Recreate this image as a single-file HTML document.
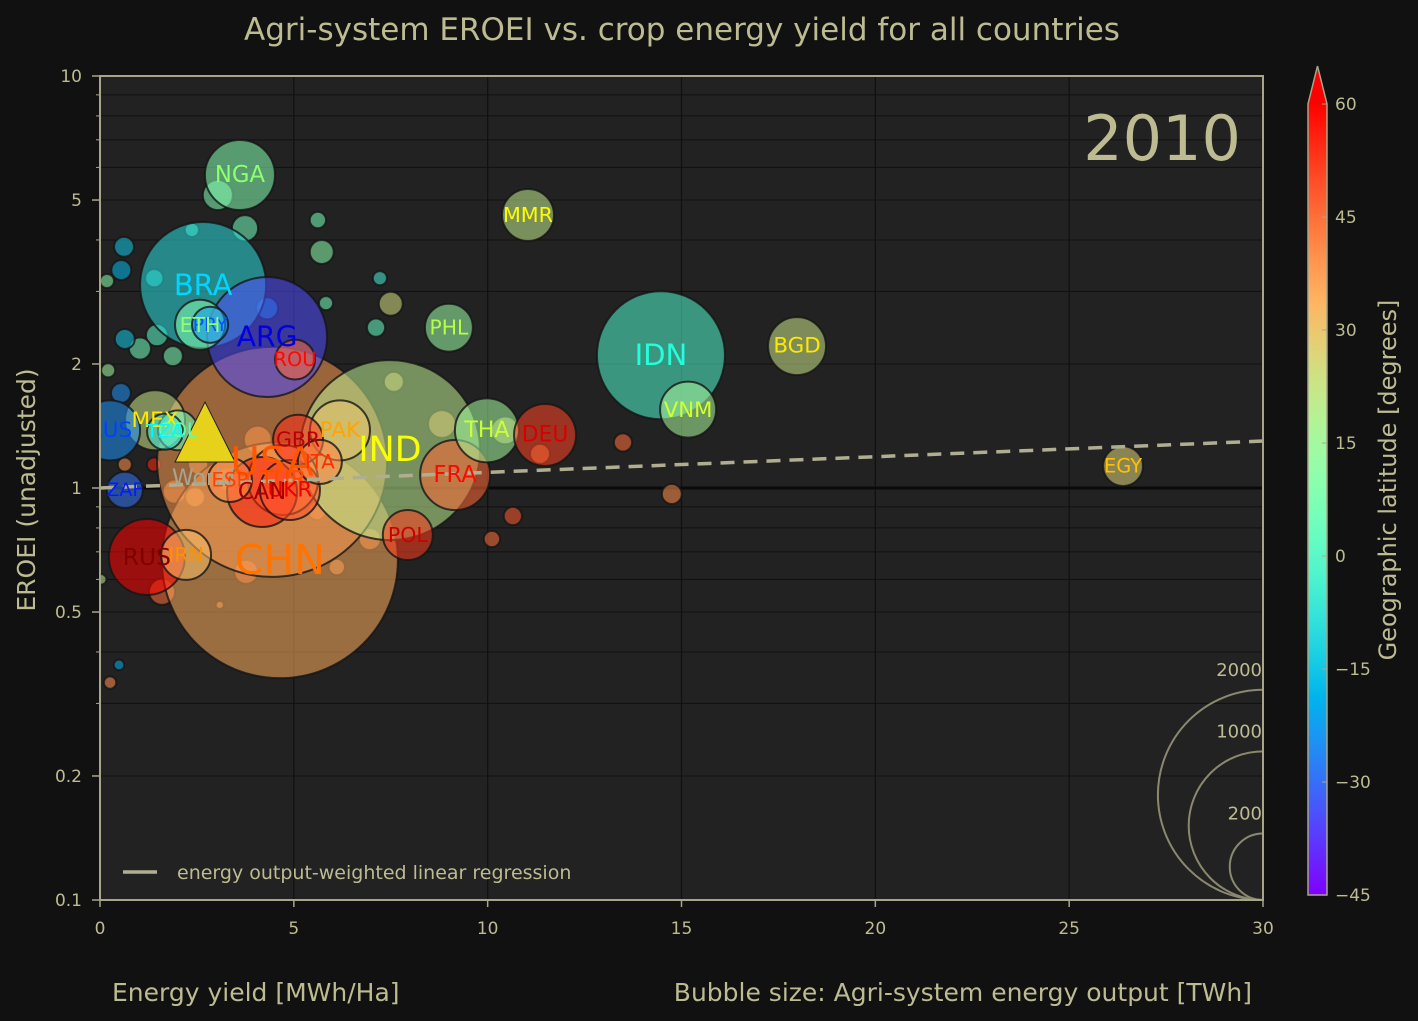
<!DOCTYPE html>
<html><head><meta charset="utf-8"><style>
html,body{margin:0;padding:0;background:#111;}
svg{display:block;font-family:"DejaVu Sans","Liberation Sans",sans-serif;}
</style></head><body>
<svg id="c" width="1418" height="1021"></svg>
<script>
const names=["CHN","USA","IND","BRA","ARG","NGA","IDN","BGD","MMR","VNM","THA","DEU","FRA","PHL","EGY","RUS","IRN","POL","GBR","PAK","ITA","TUR","UKR","CAN","ESP","MEX","AUS","ZAF","COL","TZA","PRY","ETH","ROU"];
const xs=[4.64,4.44,7.48,2.66,4.31,3.61,14.47,17.98,11.04,15.17,9.98,11.48,9.16,9.0,26.39,1.21,2.22,7.94,5.11,6.19,5.67,4.72,4.9,4.18,3.35,1.42,0.26,0.64,2.01,1.68,2.84,2.58,5.03];
const ys=[0.668,1.157,1.236,3.11,2.325,5.75,2.10,2.21,4.6,1.55,1.38,1.345,1.075,2.45,1.13,0.68,0.688,0.769,1.31,1.38,1.157,1.046,0.989,0.978,1.046,1.46,1.38,0.989,1.38,1.37,2.49,2.49,2.05];
const sizes=[2521,2395,1467,719,652,222,742,152,122,142,185,174,222,104,72,261,113,113,113,163,88,222,163,222,88,163,163,59,72,59,59,113,72];
const lats=[35,38,20,-10,-35,9,-2,23,21,16,15,51,46,13,27,60,32,52,54,30,42,39,49,56,40,23,-25,-29,4,-6,-23,9,46];
const smallX=[0.62,0.55,0.18,1.4,2.37,3.74,3.04,5.62,5.72,5.83,7.22,7.5,7.12,4.31,1.47,1.03,0.64,1.88,0.21,0.54,7.58,8.82,10.45,13.49,11.35,14.75,10.65,10.11,6.96,6.11,5.6,1.6,3.77,0.26,0.49,0.64,1.39,0.03,3.09,2.53,3.3,4.07,1.93,2.45];
const smallY=[3.85,3.38,3.18,3.23,4.23,4.27,5.14,4.47,3.74,2.81,3.23,2.80,2.45,2.73,2.35,2.18,2.3,2.09,1.93,1.7,1.81,1.43,1.38,1.29,1.21,0.967,0.855,0.752,0.752,0.643,0.88,0.56,0.626,0.337,0.372,1.14,1.14,0.6,0.52,1.14,1.05,1.31,0.98,0.95];
const smallS=[18,18,9,15,9,31,41,12,26,9,9,26,15,22,22,22,18,18,9,18,18,35,35,15,18,18,15,12,22,12,15,31,26,7,5,9,9,5,3,18,26,35,26,18];
const smallLat=[-15,-18,10,-8,0,5,8,6,10,5,-5,25,2,-20,0,5,-15,7,15,-25,30,35,28,45,40,40,48,45,42,40,45,45,44,40,-20,40,55,20,40,35,38,40,40,33];
const regX=[0,30];
const regY=[1.0,1.3];
const cbTicks=[60,45,30,15,0,-15,-30,-45];
const yTicks=[10,5,2,1,0.5,0.2,0.1];
const xTicks=[0,5,10,15,20,25,30];
const legSizes=[2000,1000,200];

const X0=100,X1=1263,Y0=76,Y1=900;
const sx=v=>X0+(v/30)*(X1-X0);
const sy=v=>Y0+(1-Math.log10(v))/2*(Y1-Y0);
const sr=s=>2.35*Math.sqrt(s);
function tn(lat){return Math.max(0,Math.min(1,(lat+45)/105));}
function cmap(lat){const t=tn(lat);
 const r=Math.min(1,Math.abs(2*t-0.5)),g=Math.sin(Math.PI*t),b=Math.cos(Math.PI*t/2);
 return `rgb(${Math.round(r*255)},${Math.round(g*255)},${Math.round(b*255)})`;}
function jet(lat){const t=tn(lat);const c=x=>Math.max(0,Math.min(1,x));
 const r=c(Math.min(4*t-1.5,-4*t+4.5)),g=c(Math.min(4*t-0.5,-4*t+3.5)),b=c(Math.min(4*t+0.5,-4*t+2.5));
 return `rgb(${Math.round(r*255)},${Math.round(g*255)},${Math.round(b*255)})`;}
const NS="http://www.w3.org/2000/svg";
const svg=document.getElementById('c');
function mk(tag,attrs,parent){const e=document.createElementNS(NS,tag);for(const k in attrs)e.setAttribute(k,attrs[k]);(parent||svg).appendChild(e);return e;}
const TXT="#bdbb91";
mk('rect',{x:0,y:0,width:1418,height:1021,fill:'#111'});
let e=mk('rect',{x:X0,y:Y0,width:X1-X0,height:Y1-Y0,fill:'#222'});


const clip=mk('clipPath',{id:'pc'});mk('rect',{x:X0,y:Y0,width:X1-X0,height:Y1-Y0},clip);
const grid=mk('g',{stroke:'#111','stroke-width':1.3});


xTicks.forEach(v=>mk('line',{x1:sx(v),x2:sx(v),y1:Y0,y2:Y1},grid));
[0.1,1].forEach(d=>{for(let m=1;m<10;m++){const v=d*m;mk('line',{x1:X0,x2:X1,y1:sy(v),y2:sy(v),'stroke-width':m==1?1.5:1},grid);}});
mk('line',{x1:X0,x2:X1,y1:sy(1),y2:sy(1),stroke:'#0a0a0a','stroke-width':3});
const pg=mk('g',{'clip-path':'url(#pc)'});
const lg=mk('g',{fill:'none',stroke:'#8a896f','stroke-width':2},pg);


legSizes.forEach(s=>{mk('circle',{cx:X1,cy:Y1-sr(s),r:sr(s)},lg);});
smallX.forEach((v,i)=>{const c=mk('circle',{cx:sx(v),cy:sy(smallY[i]),r:sr(smallS[i]),fill:cmap(smallLat[i]),'fill-opacity':0.55,stroke:'#151515','stroke-opacity':0.8,'stroke-width':2},pg);

});
const order=names.map((n,i)=>i).sort((a,b)=>sizes[b]-sizes[a]);
order.forEach(i=>{const c=mk('circle',{cx:sx(xs[i]),cy:sy(ys[i]),r:sr(sizes[i]),fill:cmap(lats[i]),'fill-opacity':0.55,stroke:'#151515','stroke-opacity':0.8,'stroke-width':2},pg);

});
const rl=mk('line',{x1:sx(regX[0]),y1:sy(regY[0]),x2:sx(regX[1]),y2:sy(regY[1]),stroke:'#b0ae90','stroke-width':3.5,'stroke-dasharray':'14,9'},pg);


const wx=sx(2.71),wy=sy(1.345);
const tri=mk('polygon',{points:`${wx},${wy-33} ${wx-30},${wy+27} ${wx+30},${wy+27}`,fill:'#e6d21a',stroke:'#222','stroke-width':1},pg);


let wt=mk('text',{x:wx-33,y:wy+50,fill:'#a8a690','font-size':22},pg);wt.textContent='World';


names.forEach((n,i)=>{const r=sr(sizes[i]);const t=mk('text',{x:sx(xs[i]),y:sy(ys[i]),fill:jet(lats[i]),'font-size':(15+r*0.22).toFixed(1),'text-anchor':'middle','dominant-baseline':'central'},pg);t.textContent=n;

});
legSizes.forEach(s=>{const t=mk('text',{x:X1-1,y:Y1-2*sr(s)-14,fill:TXT,'font-size':18,'text-anchor':'end'});t.textContent=s;

});
mk('rect',{x:X0,y:Y0,width:X1-X0,height:Y1-Y0,fill:'none',stroke:'#a8a68a','stroke-width':2});
yTicks.forEach(v=>{mk('line',{x1:X0-8,x2:X0,y1:sy(v),y2:sy(v),stroke:'#a8a68a','stroke-width':1.5});
const t=mk('text',{x:X0-18,y:sy(v)+6,fill:TXT,'font-size':17,'text-anchor':'end'});t.textContent=v;

});
[0.1,1].forEach(d=>{for(let m=2;m<10;m++)mk('line',{x1:X0-4,x2:X0,y1:sy(d*m),y2:sy(d*m),stroke:'#a8a68a','stroke-width':1});});
xTicks.forEach(v=>{mk('line',{x1:sx(v),x2:sx(v),y1:Y1,y2:Y1+7,stroke:'#a8a68a','stroke-width':1.5});
const t=mk('text',{x:sx(v),y:Y1+34,fill:TXT,'font-size':17,'text-anchor':'middle'});t.textContent=v;

});
const defs=mk('defs',{});const gr=mk('linearGradient',{id:'cb',x1:0,y1:1,x2:0,y2:0},defs);
for(let k=0;k<=20;k++){mk('stop',{offset:k/20,'stop-color':cmap(-45+105*k/20)},gr);}
const CBT=104,CBB=895,CBX=1308,CBW=19;
const cb=mk('g',{});


mk('rect',{x:CBX,y:CBT,width:CBW,height:CBB-CBT,fill:'url(#cb)'},cb);
mk('polygon',{points:`${CBX},${CBT} ${CBX+CBW/2},${66} ${CBX+CBW},${CBT}`,fill:cmap(60)},cb);
mk('polygon',{points:`${CBX},${CBB} ${CBX},${CBT} ${CBX+CBW/2},66 ${CBX+CBW},${CBT} ${CBX+CBW},${CBB}`,fill:'none',stroke:'#a8a68a','stroke-width':1.5},cb);
cbTicks.forEach(v=>{const y=CBB-(v+45)/105*(CBB-CBT);
mk('line',{x1:CBX+CBW-5,x2:CBX+CBW,y1:y,y2:y,stroke:'#a8a68a'},cb);
const t=mk('text',{x:CBX+CBW+8,y:y+6,fill:TXT,'font-size':17},cb);t.textContent=(v<0?'\u2212'+(-v):v);

});
function txt(s,attrs,name){const t=mk('text',Object.assign({fill:TXT},attrs));t.textContent=s;

return t;}
txt('Geographic latitude [degrees]',{x:0,y:0,'font-size':24,'text-anchor':'middle',transform:'translate(1396,480) rotate(-90)'},'colorbar-title');
txt('Agri-system EROEI vs. crop energy yield for all countries',{x:682,y:40,'font-size':31,'text-anchor':'middle'},'chart-title');
txt('2010',{x:1241,y:160,'font-size':62,'text-anchor':'end'},'year-label');
txt('EROEI (unadjusted)',{x:0,y:0,'font-size':25,'text-anchor':'middle',transform:'translate(35,490) rotate(-90)'},'y-axis-title');
txt('Energy yield [MWh/Ha]',{x:112,y:1001,'font-size':25},'x-axis-title');
txt('Bubble size: Agri-system energy output [TWh]',{x:1252,y:1001,'font-size':25,'text-anchor':'end'},'bubble-size-title');
const le=mk('line',{x1:123,x2:157,y1:872,y2:872,stroke:'#b0ae90','stroke-width':3.5});


txt('energy output-weighted linear regression',{x:177,y:879,'font-size':19},'legend-entry');
</script>
</body></html>
